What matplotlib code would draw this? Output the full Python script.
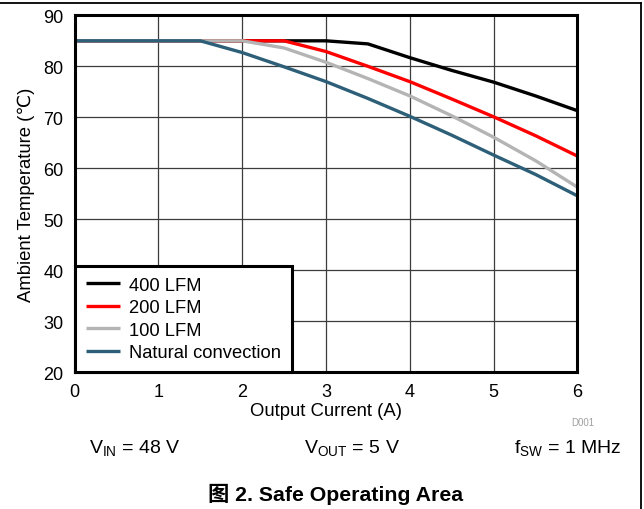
import matplotlib
matplotlib.use("Agg")
import matplotlib.pyplot as plt
from matplotlib.lines import Line2D

plt.rcParams["font.family"] = ["Liberation Sans", "DejaVu Sans", "Noto Sans CJK SC"]
plt.rcParams["mathtext.fontset"] = "custom"
plt.rcParams["mathtext.rm"] = "Liberation Sans"

# datos (corriente de salida en A, temperatura en ℃)
current = [0, 0.5, 1, 1.5, 2, 2.5, 3, 3.5, 4, 4.5, 5, 5.5, 6]
t_400 = [85, 85, 85, 85, 85, 85, 85, 84.4, 81.7, 79.2, 76.9, 74.2, 71.3]
t_200 = [85, 85, 85, 85, 85, 85, 82.9, 80.0, 77.0, 73.6, 70.1, 66.4, 62.4]
t_100 = [85, 85, 85, 85, 85, 83.6, 80.8, 77.6, 74.2, 70.3, 66.1, 61.5, 56.3]
t_nat = [85, 85, 85, 85, 82.7, 79.9, 77.0, 73.7, 70.2, 66.5, 62.6, 58.8, 54.6]

labels = ["400 LFM", "200 LFM", "100 LFM", "Natural convection"]
colors = ["#000000", "#ff0000", "#b4b4b4", "#2e5f78"]
series = [t_400, t_200, t_100, t_nat]

x_ticks = [0, 1, 2, 3, 4, 5, 6]
y_ticks = [20, 30, 40, 50, 60, 70, 80, 90]

fig = plt.figure(figsize=(6.44, 5.10), dpi=100)
ax = fig.add_axes([0.1158, 0.268, 0.7808, 0.700])

for y, c, lab in zip(series, colors, labels):
    ax.plot(current, y, color=c, lw=2.4, label=lab, solid_capstyle="butt")

ax.set_xlim(0, 6)
ax.set_ylim(20, 90)
ax.set_xticks(x_ticks)
ax.set_yticks(y_ticks)
ax.tick_params(length=0, labelsize=13, pad=8)
ax.grid(True, color="#3c3c3c", lw=0.9)
ax.set_axisbelow(True)
for s in ax.spines.values():
    s.set_linewidth(2.2)
    s.set_color("black")

ax.set_xlabel("Output Current (A)", fontsize=13.3, labelpad=1)
ax.set_ylabel("Ambient Temperature (℃)", fontsize=13.3, labelpad=6)

leg = ax.legend(loc="lower left", borderaxespad=0, fontsize=13.2, fancybox=False,
                framealpha=1, edgecolor="black", handlelength=1.86, handletextpad=0.53,
                labelspacing=0.3, borderpad=0.6)
leg.get_frame().set_linewidth(2.2)

fig.text(0.923, 0.171, "D001", fontsize=7, color="#a0a0a0", ha="right", va="center")
fig.text(0.209, 0.111, r"V$_{\mathrm{IN}}$ = 48 V", fontsize=14, ha="center", va="baseline")
fig.text(0.547, 0.111, r"V$_{\mathrm{OUT}}$ = 5 V", fontsize=14, ha="center", va="baseline")
fig.text(0.881, 0.111, r"f$_{\mathrm{SW}}$ = 1 MHz", fontsize=14, ha="center", va="baseline")
fig.text(0.521, 0.018, "图 2. Safe Operating Area", fontsize=15.3, fontweight="bold",
         ha="center", va="baseline",
         family=["Liberation Sans", "Noto Sans CJK SC"])

# marco superior y derecho de la figura
fig.add_artist(Line2D([0, 0.995], [0.992, 0.992], transform=fig.transFigure, color="black", lw=1.3))
fig.add_artist(Line2D([0.995, 0.995], [0, 0.992], transform=fig.transFigure, color="black", lw=1.3))

fig.savefig("out.png", dpi=100)
